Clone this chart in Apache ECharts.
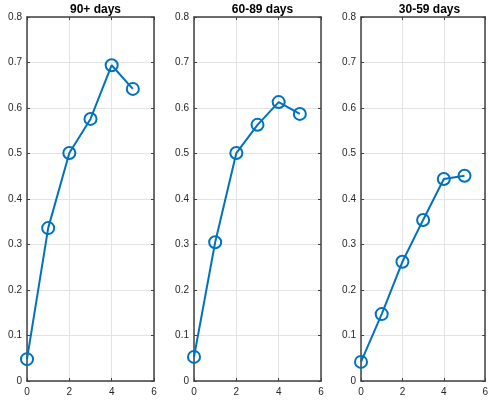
<!DOCTYPE html>
<html><head><meta charset="utf-8">
<script src="https://cdn.jsdelivr.net/npm/echarts@6/dist/echarts.min.js"></script>
<style>html,body{margin:0;padding:0;background:#fff}#c{width:491px;height:404px}</style>
</head><body><div id="c"></div>
<script>
const titles = ['90+ days', '60-89 days', '30-59 days'];
const xValues = [0, 1, 2, 3, 4, 5];
const series90 = [0.048, 0.336, 0.501, 0.576, 0.694, 0.642];
const series60 = [0.053, 0.305, 0.501, 0.563, 0.613, 0.587];
const series30 = [0.042, 0.147, 0.262, 0.354, 0.444, 0.451];
const xTicks = [0, 2, 4, 6];
const yTicks = [0, 0.1, 0.2, 0.3, 0.4, 0.5, 0.6, 0.7, 0.8];

const allSeries = [series90, series60, series30];
const lefts = [27, 194, 361];
const W = 127, TOP = 17, BOTTOM = 381;
const axisCol = '#404040', labelCol = '#262626', gridCol = '#e3e3e3', lineCol = '#0072BD';
const font = 'Liberation Sans, Arial, Helvetica, sans-serif';

const grids = [], xAxes = [], yAxes = [], series = [], titleArr = [];
allSeries.forEach((vals, i) => {
  grids.push({left: lefts[i], top: TOP, width: W, height: BOTTOM - TOP, show: false});
  titleArr.push({text: titles[i], left: lefts[i] + W / 2, top: -1, textAlign: 'center',
    textStyle: {fontFamily: font, fontSize: 12, fontWeight: 'bold', color: '#000'}});
  const tickStyle = {show: true, inside: true, length: 3, lineStyle: {color: axisCol, width: 1}};
  const lineStyle = {show: true, onZero: false, lineStyle: {color: axisCol, width: 1.5}};
  xAxes.push({type: 'value', gridIndex: i, min: xTicks[0], max: xTicks[xTicks.length - 1], interval: 2, position: 'bottom',
    axisLine: lineStyle, axisTick: tickStyle,
    axisLabel: {color: labelCol, fontFamily: font, fontSize: 10, margin: 6},
    splitLine: {show: true, lineStyle: {color: gridCol, width: 1}}});
  xAxes.push({type: 'value', gridIndex: i, min: xTicks[0], max: xTicks[xTicks.length - 1], interval: 2, position: 'top',
    axisLine: lineStyle, axisTick: tickStyle,
    axisLabel: {show: false}, splitLine: {show: false}});
  yAxes.push({type: 'value', gridIndex: i, min: yTicks[0], max: yTicks[yTicks.length - 1], interval: 0.1, position: 'left',
    axisLine: lineStyle, axisTick: tickStyle,
    axisLabel: {color: labelCol, fontFamily: font, fontSize: 10, margin: 5,
      formatter: v => (Math.round(v * 10) / 10).toString()},
    splitLine: {show: true, lineStyle: {color: gridCol, width: 1}}});
  yAxes.push({type: 'value', gridIndex: i, min: yTicks[0], max: yTicks[yTicks.length - 1], interval: 0.1, position: 'right',
    axisLine: lineStyle, axisTick: tickStyle,
    axisLabel: {show: false}, splitLine: {show: false}});
  series.push({type: 'line', xAxisIndex: 2 * i, yAxisIndex: 2 * i,
    data: xValues.map((x, k) => [x, vals[k]]),
    symbol: 'circle', symbolSize: 12, showAllSymbol: true,
    lineStyle: {color: lineCol, width: 2},
    itemStyle: {color: 'rgba(0,0,0,0)', borderColor: lineCol, borderWidth: 2},
    emphasis: {disabled: true}, animation: false, z: 5});
});

const chart = echarts.init(document.getElementById('c'), null, {renderer: 'canvas'});
chart.setOption({animation: false, backgroundColor: '#fff', title: titleArr, grid: grids, xAxis: xAxes, yAxis: yAxes, series: series});
</script></body></html>
